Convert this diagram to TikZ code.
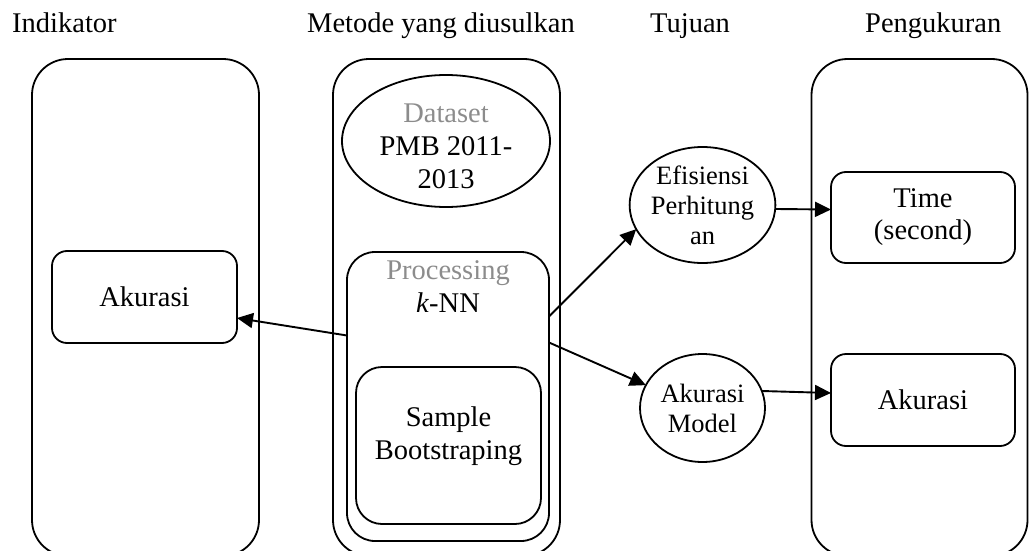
\documentclass[tikz,border=0pt]{standalone}
\usepackage{fontspec}
\setmainfont{Liberation Serif}
\usetikzlibrary{shapes.geometric,arrows.meta,calc}
\tikzset{
  bigbox/.style={draw, line width=1.8pt, rounded corners=36pt, inner sep=0pt, outer sep=0pt},
  midbox/.style={draw, line width=1.8pt, rounded corners=28pt, inner sep=0pt, outer sep=0pt},
  smallbox/.style={draw, line width=1.8pt, rounded corners=15pt, inner sep=0pt, outer sep=0pt, align=center, font=\fontsize{28.5}{32}\selectfont},
  ell/.style={draw, ellipse, line width=1.8pt, inner sep=0pt, outer sep=0pt, align=center},
  title/.style={anchor=base west, inner sep=0pt, font=\fontsize{28.5}{32}\selectfont},
  txt/.style={inner sep=0pt, align=center, font=\fontsize{28.5}{33}\selectfont},
  ctxt/.style={font=\fontsize{26.5}{30}\selectfont},
  arr/.style={line width=1.9pt, -{Triangle[length=16pt,width=15pt]}}
}
\begin{document}
\begin{tikzpicture}[x=1pt,y=-1pt]
\useasboundingbox (0,0) rectangle (1030,551);
% titles
\node[title] (t1) at (12,33) {Indikator};
\node[title] (t2) at (307,33) {Metode yang diusulkan};
\node[title] (t3) at (650,33) {Tujuan};
\node[title] (t4) at (865,33) {Pengukuran};
% big boxes
\node[bigbox, minimum width=227pt, minimum height=497pt] (ind) at (145.5,307.5) {};
\node[bigbox, minimum width=227pt, minimum height=497pt] (met) at (446.5,307.5) {};
\node[bigbox, minimum width=216pt, minimum height=497pt] (pen) at (919.5,307.5) {};
% dataset ellipse
\node[ell, minimum width=208pt, minimum height=132pt] (ds) at (446,141) {};
\node[txt] (dstxt) at (446,146) {\textcolor{black!45}{Dataset}\\PMB 2011-\\2013};
% processing
\node[midbox, minimum width=202pt, minimum height=289pt] (proc) at (448,396.5) {};
\node[txt, anchor=north] (proctxt) at ([yshift=-8pt]proc.north) {\textcolor{black!45}{Processing}\\\textit{k}-NN};
\node[midbox, rounded corners=26pt, minimum width=185pt, minimum height=157pt] (samp) at (448.5,445.5) {};
\node[txt] (samptxt) at (448.5,436) {Sample\\Bootstraping};
% left akurasi
\node[smallbox, minimum width=185pt, minimum height=92pt] (akl) at (144.5,297) {Akurasi};
% circles
\node[ell, ctxt, minimum width=125pt, minimum height=116pt] (efi) at (702.5,205) {Efisiensi\\Perhitung\\an};
\node[ell, ctxt, minimum width=125pt, minimum height=108pt] (am) at (702.5,408) {Akurasi\\Model};
% right boxes
\node[smallbox, minimum width=184pt, minimum height=91pt] (time) at (923,217.5) {Time\\(second)};
\node[smallbox, minimum width=184pt, minimum height=92pt] (akr) at (923,400) {Akurasi};
% arrows
\draw[arr] ([yshift=61pt]proc.west) -- ([yshift=-21pt]akl.east);
\draw[arr] ([yshift=80pt]proc.east) -- (efi.200);
\draw[arr] ([yshift=54pt]proc.east) -- (am.158);
\draw[arr] ([yshift=-4pt]efi.east) -- ([yshift=8pt]time.west);
\draw[arr] (am.16) -- ([yshift=7pt]akr.west);
\end{tikzpicture}
\end{document}
